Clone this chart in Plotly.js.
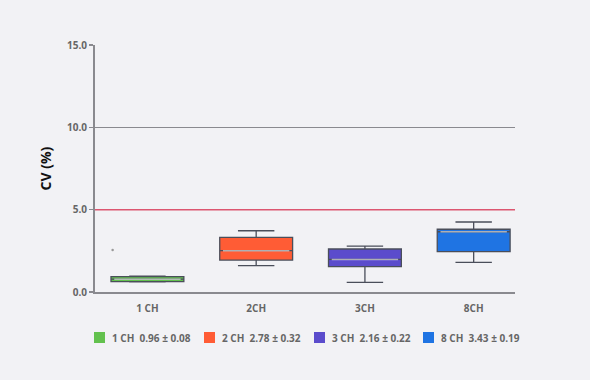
<!DOCTYPE html>
<html>
<head>
<meta charset="utf-8">
<script src="https://cdn.plot.ly/plotly-3.0.1.min.js"></script>
<style>html,body{margin:0;padding:0;background:#f2f2f5;}#chart{width:590px;height:380px;}</style>
</head>
<body>
<div id="chart"></div>
<script>
// Data
const categories = ["1 CH", "2CH", "3CH", "8CH"];
const legendNames = ["1 CH", "2 CH", "3 CH", "8 CH"];
const means = [0.96, 2.78, 2.16, 3.43];
const sds = [0.08, 0.32, 0.22, 0.19];
const lowerFence = [0.62, 1.60, 0.59, 1.80];
const q1 = [0.63, 1.94, 1.54, 2.45];
const medians = [0.78, 2.51, 1.98, 3.66];
const q3 = [0.93, 3.32, 2.61, 3.81];
const upperFence = [0.97, 3.72, 2.79, 4.25];
const strayX = [-0.32];
const strayY = [2.55];
const threshold = 5.0;
const yTicks = [0, 5, 10, 15];

const colors = ["#63c14e", "#ff5c35", "#5b4ccc", "#1f74e3"];
const boxWidth = 0.67;

const W = 590, H = 380, ML = 95, MR = 75, MT = 45, MB = 88;
const PW = W - ML - MR, PH = H - MT - MB;
const px2x = p => (p - ML) / PW;
const py2y = p => (H - MB - p) / PH;

const traces = [];
categories.forEach((c, i) => {
  traces.push({
    type: "box",
    x: [i],
    q1: [q1[i]], median: [medians[i]], q3: [q3[i]],
    lowerfence: [lowerFence[i]], upperfence: [upperFence[i]],
    width: boxWidth,
    whiskerwidth: 0.5,
    fillcolor: colors[i],
    line: {color: "#4a4e5a", width: 1.3},
    showlegend: false,
    hoverinfo: "skip"
  });
});
// light median lines
const mx = [], my = [];
medians.forEach((m, i) => {
  mx.push(i - boxWidth / 2 + 0.03, i + boxWidth / 2 - 0.03, null);
  my.push(m, m, null);
});
traces.push({type: "scatter", mode: "lines", x: mx, y: my,
  line: {color: "rgba(255,255,255,0.55)", width: 1.5}, showlegend: false, hoverinfo: "skip"});
// stray point
traces.push({type: "scatter", mode: "markers", x: strayX, y: strayY,
  marker: {color: "#999", size: 2.5}, showlegend: false, hoverinfo: "skip"});

// custom legend (squares + text)
const legendStartPx = [94, 204, 314, 423];
const shapes = [{
  type: "line", xref: "paper", x0: 0, x1: 1, yref: "y", y0: threshold, y1: threshold,
  line: {color: "#dc5670", width: 1.5}, layer: "above"
}];
const annotations = [];
legendNames.forEach((n, i) => {
  const p = legendStartPx[i];
  shapes.push({type: "rect", xref: "paper", yref: "paper",
    x0: px2x(p), x1: px2x(p + 11), y0: py2y(332), y1: py2y(343),
    fillcolor: colors[i], line: {width: 0}});
  annotations.push({xref: "paper", yref: "paper", x: px2x(p + 16), y: py2y(338),
    xanchor: "left", yanchor: "middle", showarrow: false,
    text: n + "&nbsp;&nbsp;" + means[i].toFixed(2) + " ± " + sds[i].toFixed(2),
    font: {family: "Open Sans, sans-serif", size: 10, color: "#666", weight: "bold"}});
});

const layout = {
  width: W, height: H,
  paper_bgcolor: "#f2f2f5", plot_bgcolor: "#f2f2f5",
  margin: {l: ML, r: MR, t: MT, b: MB},
  font: {family: "Open Sans, sans-serif", color: "#666", size: 10},
  showlegend: false,
  xaxis: {
    range: [-0.482, 3.38],
    tickvals: categories.map((c, i) => i),
    ticktext: categories,
    showgrid: false, zeroline: false,
    showline: true, linecolor: "#8a8a8f", linewidth: 2,
    ticks: "", ticklen: 0, ticklabelstandoff: 6,
    tickfont: {family: "Open Sans, sans-serif", size: 10, color: "#666", weight: "bold"},
    fixedrange: true
  },
  yaxis: {
    range: [0, 15],
    tickvals: yTicks,
    tickformat: ".1f",
    showgrid: true, gridcolor: "#8a8a8f", gridwidth: 1.3,
    zeroline: false,
    showline: true, linecolor: "#8a8a8f", linewidth: 2,
    ticks: "outside", ticklen: 4, tickcolor: "#8a8a8f", tickwidth: 1.5,
    tickfont: {family: "Open Sans, sans-serif", size: 10, color: "#666", weight: "bold"},
    title: {text: "CV (%)", standoff: 12,
      font: {family: "Open Sans, sans-serif", size: 14, color: "#111", weight: "bold"}},
    fixedrange: true
  },
  shapes: shapes,
  annotations: annotations
};

Plotly.newPlot("chart", traces, layout, {displayModeBar: false, staticPlot: true});
</script>
</body>
</html>
